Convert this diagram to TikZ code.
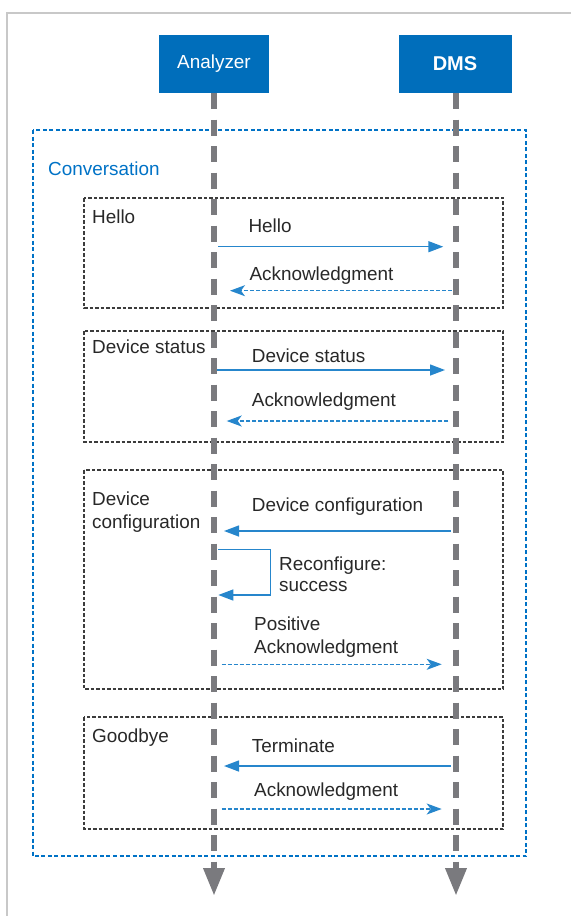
\documentclass[tikz,border=0pt]{standalone}
\usepackage{fontspec}
\setmainfont{Liberation Sans}
\usetikzlibrary{arrows.meta}
\definecolor{rblue}{RGB}{0,110,187}
\definecolor{mblue}{RGB}{38,134,204}
\definecolor{lgray}{RGB}{122,122,126}
\definecolor{framegray}{RGB}{200,200,200}
\definecolor{boxgray}{RGB}{60,60,60}
\definecolor{txt}{RGB}{40,40,40}
\definecolor{convblue}{RGB}{0,114,198}
\begin{document}
\begin{tikzpicture}[x=1pt,y=-1pt,
  every node/.style={font=\fontsize{18.9}{22}\selectfont},
  head/.style={fill=rblue, draw=none, text=white, minimum height=58pt, inner sep=0pt},
  lbl/.style={anchor=base west, inner sep=0pt, text=txt},
  lifeline/.style={draw=lgray, line width=6.5pt, dash pattern=on 16pt off 10.5pt, -{Triangle[length=28pt,width=20pt]}},
  msg/.style={draw=mblue, line width=1.4pt, -{Triangle[length=15pt,width=11pt]}},
  reply/.style={draw=mblue, line width=1.4pt, dash pattern=on 4pt off 2pt, -{Stealth[length=15pt,width=11pt,inset=4pt]}},
  phase/.style={draw=boxgray, line width=1.1pt, dash pattern=on 3.5pt off 2pt},
  conv/.style={draw=convblue, line width=1.1pt, dash pattern=on 4pt off 2.5pt},
  frame/.style={draw=framegray, line width=1.5pt}]
\useasboundingbox (0,0) rectangle (571,916);
% outer frame
\draw[frame] (571,13) -- (7,13) -- (7,916);
% conversation box
\draw[conv] (33,130) rectangle (526,856);
\node[lbl, text=convblue] (convlbl) at (48,175) {Conversation};
% phase boxes
\draw[phase] (84,198) rectangle (503,308);
\draw[phase] (84,331) rectangle (503,442);
\draw[phase] (84,470) rectangle (503,689);
\draw[phase] (84,717) rectangle (503,829);
\node[lbl] (phello) at (92,223.3) {Hello};
\node[lbl] (pstatus) at (92,353.3) {Device status};
\node[lbl] (pconf1) at (92,505) {Device};
\node[lbl] (pconf2) at (92,528.3) {configuration};
\node[lbl] (pbye) at (92,742.7) {Goodbye};
% heads
\node[head, minimum width=110pt] (an) at (214,64) {Analyzer};
\node[head, minimum width=113pt, font=\fontsize{20}{22}\selectfont\bfseries] (dms) at (455,64) {DMS};
\coordinate (anend) at (214,896);
\coordinate (dmsend) at (456,896);
\draw[lifeline] (an.south) -- (anend);
\draw[lifeline] (dms.south -| dmsend) -- (dmsend);
% messages
\coordinate (m1a) at (218,246.7);   \coordinate (m1b) at (443.3,246.7);
\coordinate (m2a) at (451.7,290.7); \coordinate (m2b) at (230,290.7);
\coordinate (m3a) at (217.3,370);   \coordinate (m3b) at (445,370);
\coordinate (m4a) at (448.3,421);   \coordinate (m4b) at (226.7,421);
\coordinate (m5a) at (451,531);     \coordinate (m5b) at (224,531);
\coordinate (s1) at (218.3,549.3);  \coordinate (s2) at (270.7,549.3);
\coordinate (s3) at (270.7,595);    \coordinate (s4) at (218.3,595);
\coordinate (m7a) at (221.7,664.3); \coordinate (m7b) at (441.7,664.3);
\coordinate (m8a) at (451,766);     \coordinate (m8b) at (224,766);
\coordinate (m9a) at (221.7,809);   \coordinate (m9b) at (441.7,809);
\draw[msg] (m1a) -- (m1b);
\draw[reply] (m2a) -- (m2b);
\draw[msg] (m3a) -- (m3b);
\draw[reply] (m4a) -- (m4b);
\draw[msg] (m5a) -- (m5b);
\draw[msg, line join=miter] (s1) -- (s2) -- (s3) -- (s4);
\draw[reply] (m7a) -- (m7b);
\draw[msg] (m8a) -- (m8b);
\draw[reply] (m9a) -- (m9b);
% message labels
\node[lbl] (l1) at (248.3,232.7) {Hello};
\node[lbl] (l2) at (249.3,280) {Acknowledgment};
\node[lbl] (l3) at (251.7,362.7) {Device status};
\node[lbl] (l4) at (251.7,406) {Acknowledgment};
\node[lbl] (l5) at (251.7,511.7) {Device configuration};
\node[lbl] (l6a) at (279,570) {Reconfigure:};
\node[lbl] (l6b) at (279,591.7) {success};
\node[lbl] (l7a) at (254,630) {Positive};
\node[lbl] (l7b) at (254,653.3) {Acknowledgment};
\node[lbl] (l8) at (251.7,752.7) {Terminate};
\node[lbl] (l9) at (254,796) {Acknowledgment};
\end{tikzpicture}
\end{document}
